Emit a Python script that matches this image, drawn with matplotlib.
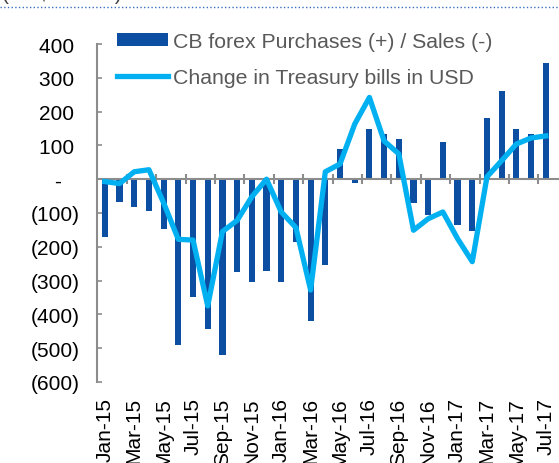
import numpy as np
import matplotlib
matplotlib.use('Agg')
import matplotlib.pyplot as plt
from matplotlib.lines import Line2D

plt.rcParams['font.family'] = ['Liberation Sans', 'DejaVu Sans']

months = ['Jan-15', 'Feb-15', 'Mar-15', 'Apr-15', 'May-15', 'Jun-15', 'Jul-15', 'Aug-15',
          'Sep-15', 'Oct-15', 'Nov-15', 'Dec-15', 'Jan-16', 'Feb-16', 'Mar-16', 'Apr-16',
          'May-16', 'Jun-16', 'Jul-16', 'Aug-16', 'Sep-16', 'Oct-16', 'Nov-16', 'Dec-16',
          'Jan-17', 'Feb-17', 'Mar-17', 'Apr-17', 'May-17', 'Jun-17', 'Jul-17']

# CB forex purchases (+) / sales (-), US$ million
fx_flows = [-170, -68, -82, -94, -147, -491, -350, -444, -521, -276, -303, -271, -303, -185,
            -420, -253, 90, -12, 150, 135, 120, -70, -105, 110, -135, -153, 180, 260, 150,
            135, 345]

# change in Treasury bills in USD, US$ million
tbills = [-7, -13, 22, 28, -70, -178, -180, -375, -155, -122, -52, 0, -97, -143, -328, 22,
          45, 163, 242, 113, 75, -151, -117, -97, -176, -244, 7, 55, 104, 122, 128]

y_ticks = [400, 300, 200, 100, 0, -100, -200, -300, -400, -500, -600]


def fmt(v):
    if v > 0:
        return '%d ' % v
    if v == 0:
        return '-   '
    return '(%d)' % -v


bar_color = '#0b4ea2'
line_color = '#00b0f0'
grey = '#8c8c8c'

fig = plt.figure(figsize=(5.59, 4.64), dpi=100)
ax = fig.add_axes([0.1744, 0.1746, 0.8256, 0.7284])

x = np.arange(len(months))
bars = ax.bar(x, fx_flows, width=0.42, color=bar_color, zorder=2)
ax.axhline(0, color=grey, lw=1.5, zorder=2.5)
ax.plot(np.arange(1.5, len(months), 2), np.zeros(len(range(1, len(months), 2))),
        ls='none', marker='|', ms=7, mew=1.5, color=grey, zorder=2.5)
line, = ax.plot(x, tbills, color=line_color, lw=3.8, zorder=3, solid_joinstyle='round')

ax.set_xlim(-0.5, 30.9)
ax.set_ylim(-600, 400)
ax.set_yticks(y_ticks)
ax.set_yticklabels([fmt(v) for v in y_ticks], fontsize=15, color='black')
ax.tick_params(axis='y', direction='in', length=3.6, width=1.2, color=grey, pad=13)

ax.set_xticks(x[::2])
ax.set_xticklabels(months[::2], rotation=90, fontsize=15, color='black')
ax.tick_params(axis='x', length=0, pad=11)

for s in ['top', 'right', 'bottom']:
    ax.spines[s].set_visible(False)
ax.spines['left'].set_color(grey)
ax.spines['left'].set_linewidth(1.5)

leg = ax.legend([bars, line],
                ['CB forex Purchases (+) / Sales (-)', 'Change in Treasury bills in USD'],
                loc='upper left', bbox_to_anchor=(0.209, 0.929),
                bbox_transform=fig.transFigure, frameon=False, fontsize=15.3,
                handlelength=2.4, handleheight=0.55, handletextpad=0.25,
                labelspacing=0.8, borderpad=0, borderaxespad=0)
for t in leg.get_texts():
    t.set_color('#595959')

# cut-off unit caption and dotted rule at the top
fig.text(0.004, 1 - 0.5 / 464, '(US$ million)', fontsize=15, color='#404040',
         va='baseline', ha='left')
fig.add_artist(Line2D([0, 1], [1 - 7.5 / 464] * 2, transform=fig.transFigure,
                      color='#3a6fc0', lw=1, ls=':'))

fig.savefig('out.png', dpi=100)
